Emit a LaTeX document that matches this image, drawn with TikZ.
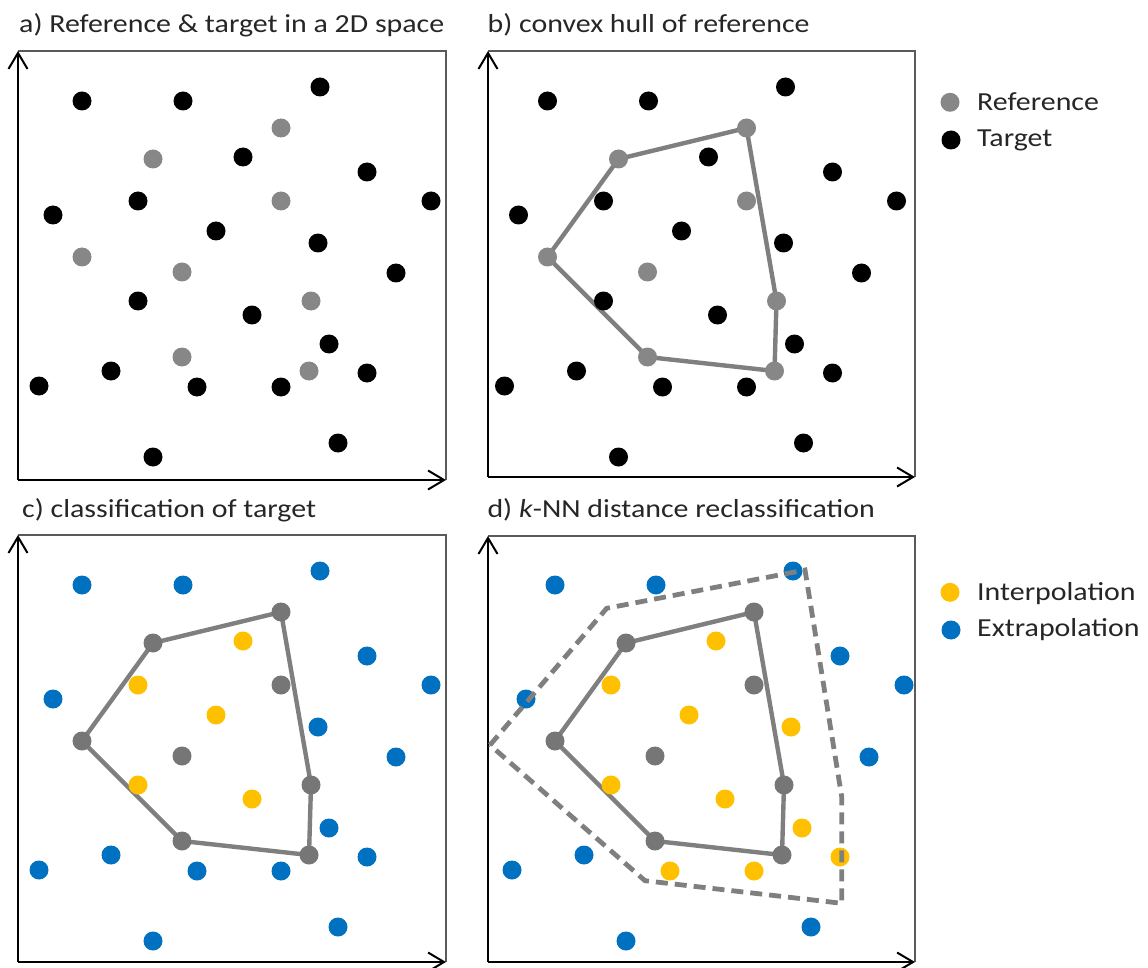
\documentclass[tikz,border=0pt]{standalone}
\usepackage{fontspec}
\setmainfont[FakeStretch=1.15]{Carlito}
\usetikzlibrary{arrows.meta}
\definecolor{refa}{HTML}{878787}
\definecolor{refc}{HTML}{767676}
\definecolor{hullc}{HTML}{7F7F7F}
\definecolor{framec}{HTML}{5A5A5A}
\definecolor{blu}{HTML}{0070C0}
\definecolor{yel}{HTML}{FFC000}
\pgfdeclarelayer{bg}
\pgfsetlayers{bg,main}
\def\tgtlist{T1/82/101,T2/183/101,T3/320/87,T4/243/157,T5/367/172,T6/138/201,T7/431/201,T8/53/215,T9/216/231,T10/318/243,T11/396/273,T12/138/301,T13/252/315,T14/329/344,T15/111/371,T16/39/386,T17/197/387,T18/281/387,T19/367/373,T20/338/443,T21/153/457}
\def\reflist{R1/281/128,R2/153/159,R3/281/201,R4/82/257,R5/182/272,R6/311/301,R7/182/357,R8/309/371}
\def\clslistc{T1/82/101/blu,T2/183/101/blu,T3/320/87/blu,T4/243/157/yel,T5/367/172/blu,T6/138/201/yel,T7/431/201/blu,T8/53/215/blu,T9/216/231/yel,T10/318/243/blu,T11/396/273/blu,T12/138/301/yel,T13/252/315/yel,T14/329/344/blu,T15/111/371/blu,T16/39/386/blu,T17/197/387/blu,T18/281/387/blu,T19/367/373/blu,T20/338/443/blu,T21/153/457/blu}
\def\clslistd{T1/82/101/blu,T2/183/101/blu,T3/320/87/blu,T4/243/157/yel,T5/367/172/blu,T6/138/201/yel,T7/431/201/blu,T8/53/215/blu,T9/216/231/yel,T10/318/243/yel,T11/396/273/blu,T12/138/301/yel,T13/252/315/yel,T14/329/344/yel,T15/111/371/blu,T16/39/386/blu,T17/197/387/yel,T18/281/387/yel,T19/367/373/yel,T20/338/443/blu,T21/153/457/blu}
\tikzset{
  dot/.style={circle, inner sep=0pt, minimum size=19pt, draw=none},
  axisline/.style={line width=2pt, black, -{Straight Barb[length=16pt,width=19pt,line width=2pt]}},
  frameline/.style={line width=1.4pt, framec},
  hull/.style={line width=4.4pt, hullc, line join=round},
  outerhull/.style={line width=4.8pt, hullc, dash pattern=on 12pt off 7pt, line join=miter},
  title/.style={anchor=base west, inner sep=0pt, text=black!85, font=\fontsize{26}{31}\selectfont},
  legtext/.style={anchor=base west, inner sep=0pt, text=black!85, font=\fontsize{26}{31}\selectfont}
}
\begin{document}
\begin{tikzpicture}[x=1pt,y=-1pt]
\useasboundingbox (0,0) rectangle (1148,968);

% ---------- titles ----------
\node[title] (ta) at (19,32.5) {a) Reference \& target in a 2D space};
\node[title] (tb) at (487.5,32.5) {b) convex hull of reference};
\node[title] (tc) at (22,517.5) {c) classification of target};
\node[title] (td) at (487.3,517.5) {d) \textit{k}-NN distance reclassification};

% ---------- frames ----------
\foreach \p/\xa/\ya/\xb/\yb in {a/18/51/446/480, b/488/51/915/477, c/18/535/446/962, d/488/536/915/962}{
  \coordinate (\p O) at (\xa,\yb);
  \coordinate (\p Y) at (\xa,\ya);
  \coordinate (\p X) at (\xb,\yb);
  \coordinate (\p C) at (\xb,\ya);
  \draw[frameline] (\p Y) -- (\p C) -- (\p X);
  \draw[axisline] (\p O) -- (\p Y);
  \draw[axisline] (\p O) -- (\p X);
}

% ---------- panel a ----------
\begin{scope}
  \foreach \n/\x/\y in \tgtlist {\node[dot, fill=black] (a\n) at (\x,\y) {};}
  \foreach \n/\x/\y in \reflist {\node[dot, fill=refa] (a\n) at (\x,\y) {};}
\end{scope}

% ---------- panel b ----------
\begin{scope}[shift={(465.5,0)}]
  \foreach \n/\x/\y in \tgtlist {\node[dot, fill=black] (b\n) at (\x,\y) {};}
  \foreach \n/\x/\y in \reflist {\node[dot, fill=refa] (b\n) at (\x,\y) {};}
  \begin{pgfonlayer}{bg}
    \draw[hull] (bR4.center) -- (bR2.center) -- (bR1.center) -- (bR6.center) -- (bR8.center) -- (bR7.center) -- cycle;
  \end{pgfonlayer}
\end{scope}

% ---------- panel c ----------
\begin{scope}[shift={(0,484)}]
  \foreach \n/\x/\y/\c in \clslistc {\node[dot, fill=\c] (c\n) at (\x,\y) {};}
  \foreach \n/\x/\y in \reflist {\node[dot, fill=refc] (c\n) at (\x,\y) {};}
  \begin{pgfonlayer}{bg}
    \draw[hull] (cR4.center) -- (cR2.center) -- (cR1.center) -- (cR6.center) -- (cR8.center) -- (cR7.center) -- cycle;
  \end{pgfonlayer}
\end{scope}

% ---------- panel d ----------
\begin{scope}[shift={(473,484)}]
  \foreach \n/\x/\y/\c in \clslistd {\node[dot, fill=\c] (d\n) at (\x,\y) {};}
  \foreach \n/\x/\y in \reflist {\node[dot, fill=refc] (d\n) at (\x,\y) {};}
  \begin{pgfonlayer}{bg}
    \draw[hull] (dR4.center) -- (dR2.center) -- (dR1.center) -- (dR6.center) -- (dR8.center) -- (dR7.center) -- cycle;
  \end{pgfonlayer}
  \draw[outerhull] (17,261) -- (133.7,124.3) -- (332,86) -- (368.7,312.7) -- (368.7,419.3) -- (172,396.7) -- cycle;
\end{scope}

% ---------- legends ----------
\node[dot, fill=refa] (lgRef) at (950,102.3) {};
\node[dot, fill=black] (lgTgt) at (951,140) {};
\node[legtext] (lgRefT) at (977,110.7) {Reference};
\node[legtext] (lgTgtT) at (977,146.7) {Target};
\node[dot, fill=yel] (lgInt) at (950,592.3) {};
\node[dot, fill=blu] (lgExt) at (951,630) {};
\node[legtext] (lgIntT) at (977,600.7) {Interpolation};
\node[legtext] (lgExtT) at (977,636.7) {Extrapolation};
\end{tikzpicture}
\end{document}
